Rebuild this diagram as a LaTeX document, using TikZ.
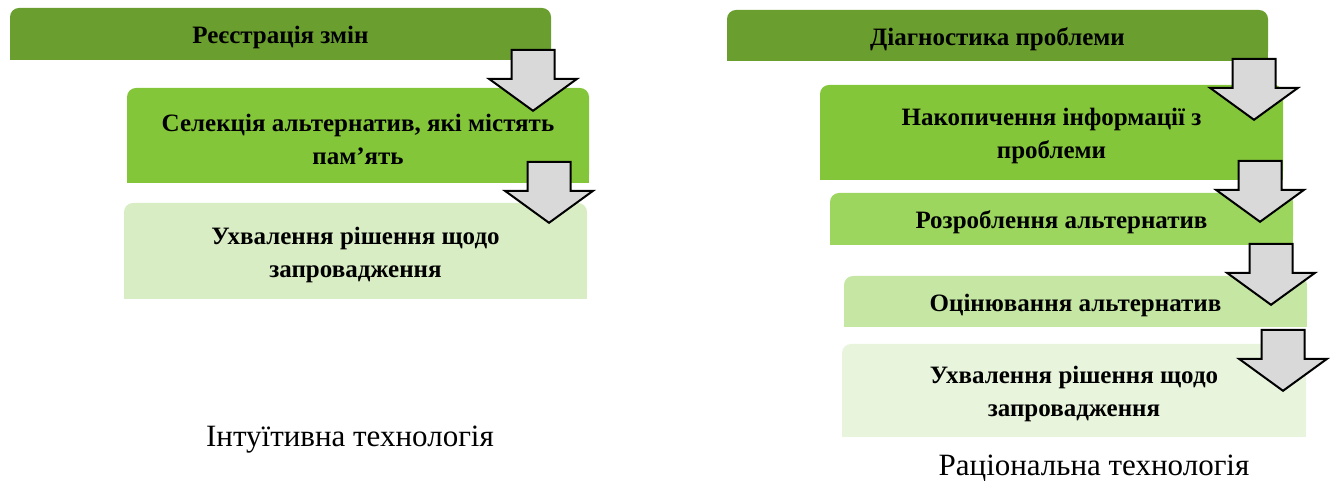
\documentclass[tikz,border=0pt]{standalone}
\usepackage{fontspec}
\setmainfont{Liberation Serif}
\usetikzlibrary{shapes.arrows}
\definecolor{gA}{RGB}{106,158,46}
\definecolor{gB}{RGB}{132,198,58}
\definecolor{gC}{RGB}{156,214,94}
\definecolor{gD}{RGB}{198,230,164}
\definecolor{gE}{RGB}{217,237,197}
\definecolor{gF}{RGB}{232,244,220}
\definecolor{arrfill}{RGB}{217,217,217}
\tikzset{
  stage/.style={rounded corners=9pt, inner sep=0pt, align=center,
    font=\fontsize{25}{33}\selectfont\bfseries, text=black},
  label/.style={stage, yshift=-3.5pt},
  downarrow/.style={single arrow, rotate=-90, draw=black, line width=2pt,
    fill=arrfill, minimum height=61pt, inner xsep=0pt, inner ysep=20.5pt,
    single arrow head extend=22.5pt, single arrow tip angle=108},
  caption/.style={font=\fontsize{31}{34}\selectfont, text=black}
}
\newcommand{\squarebottom}[2]{\fill[#2] (#1.west) rectangle (#1.south east);}
\begin{document}
\begin{tikzpicture}[x=1pt,y=1pt]
\useasboundingbox (0,0) rectangle (1336,484);
% left column
\node[stage, fill=gA, minimum width=541pt, minimum height=52pt] (l1) at (280.5,450) {};
\squarebottom{l1}{gA}
\node[label] (l1t) at (l1) {Реєстрація змін};
\node[stage, fill=gB, minimum width=462pt, minimum height=95pt] (l2) at (358,348.5) {};
\squarebottom{l2}{gB}
\node[label] (l2t) at (l2) {Селекція альтернатив, які містять\\пам’ять};
\node[stage, fill=gE, minimum width=463pt, minimum height=96pt] (l3) at (355.5,233) {};
\squarebottom{l3}{gE}
\node[label] (l3t) at (l3) {Ухвалення рішення щодо\\запровадження};
\node[downarrow] (la1) at (533,411.5) {};
\node[downarrow] (la2) at (549,299.5) {};
\node[caption] (lc) at (350,44) {Інтуїтивна технологія};
% right column
\node[stage, fill=gA, minimum width=541pt, minimum height=51pt] (r1) at (997.5,448.5) {};
\squarebottom{r1}{gA}
\node[label] (r1t) at (r1) {Діагностика проблеми};
\node[stage, fill=gB, minimum width=463pt, minimum height=95pt] (r2) at (1051.5,351.5) {};
\squarebottom{r2}{gB}
\node[label] (r2t) at (r2) {Накопичення інформації з\\проблеми};
\node[stage, fill=gC, minimum width=463pt, minimum height=52pt] (r3) at (1061.5,265) {};
\squarebottom{r3}{gC}
\node[label] (r3t) at (r3) {Розроблення альтернатив};
\node[stage, fill=gD, minimum width=463pt, minimum height=51pt] (r4) at (1075.5,182.5) {};
\squarebottom{r4}{gD}
\node[label] (r4t) at (r4) {Оцінювання альтернатив};
\node[stage, fill=gF, minimum width=464pt, minimum height=93pt] (r5) at (1074,93.5) {};
\squarebottom{r5}{gF}
\node[label] (r5t) at (r5) {Ухвалення рішення щодо\\запровадження};
\node[downarrow] (ra1) at (1254,402.5) {};
\node[downarrow] (ra2) at (1260,300.5) {};
\node[downarrow] (ra3) at (1271,217.5) {};
\node[downarrow] (ra4) at (1283,131.5) {};
\node[caption] (rc) at (1094,16) {Раціональна технологія};
\end{tikzpicture}
\end{document}
